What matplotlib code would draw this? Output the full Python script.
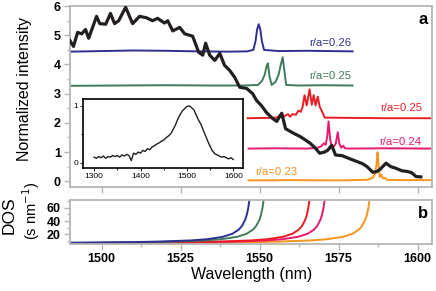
"""
Emission spectra of photonic crystal cavities (a) and density of states (b)
"""

import matplotlib
matplotlib.use('Agg')
import matplotlib.pyplot as plt
from matplotlib.ticker import MultipleLocator

plt.rcParams['font.family'] = ['Liberation Sans', 'DejaVu Sans']

# ---- broad emission (black, panel a) ----
wl_broad = [1489.9, 1491.1, 1492.4, 1493.7, 1494.9, 1495.9, 1498.4, 1499.4, 1501.3, 1502.8,
            1504.1, 1505.4, 1507.6, 1509.8, 1512.0, 1514.2, 1516.1, 1517.7, 1519.9, 1520.9,
            1522.5, 1524.7, 1526.3, 1528.8, 1530.7, 1532.0, 1532.9, 1534.2, 1535.8, 1537.4,
            1538.9, 1540.5, 1542.1, 1543.7, 1545.9, 1547.8, 1549.0, 1550.5, 1552.2, 1554.0,
            1555.4, 1557.0, 1558.2, 1559.5, 1560.8, 1562.5, 1564.0, 1566.0, 1567.5, 1569.0,
            1570.5, 1571.5, 1572.8, 1574.0, 1576.0, 1577.4, 1579.0, 1580.7, 1582.6, 1584.0,
            1585.8, 1587.0, 1588.0, 1590.0, 1591.5, 1593.0, 1595.0, 1596.5, 1598.0, 1599.5,
            1601.0]
int_broad = [4.83, 4.62, 5.10, 5.05, 5.20, 4.90, 5.65, 5.40, 5.38, 5.75,
             5.40, 5.50, 5.96, 5.40, 5.65, 5.60, 5.50, 5.58, 5.42, 5.50,
             5.15, 5.27, 5.05, 4.97, 4.42, 4.32, 4.73, 4.32, 4.14, 4.38,
             3.97, 3.80, 3.56, 3.22, 3.18, 3.00, 2.77, 2.60, 2.35, 2.16,
             2.05, 2.33, 1.80, 1.72, 1.64, 1.55, 1.45, 1.30, 1.15, 0.96,
             1.00, 1.06, 1.23, 0.90, 0.88, 0.82, 0.75, 0.68, 0.60, 0.50,
             0.31, 0.33, 0.40, 0.62, 0.50, 0.45, 0.36, 0.34, 0.30, 0.16,
             0.15]

# ---- cavity spectra (panel a) ----
wl_026 = [1490, 1500, 1510, 1520, 1530, 1540, 1546, 1548.0, 1548.7, 1549.2, 1549.7,
          1550.2, 1550.7, 1551.4, 1556, 1565, 1572, 1579.4]
int_026 = [4.44, 4.46, 4.48, 4.47, 4.45, 4.44, 4.45, 4.50, 4.80, 5.20, 5.38,
           5.20, 4.80, 4.50, 4.46, 4.47, 4.46, 4.45]

wl_025a = [1490, 1505, 1520, 1535, 1545, 1549.5, 1550.8, 1551.6, 1552.2, 1552.6, 1553.1,
           1553.8, 1555.0, 1556.0, 1556.7, 1557.3, 1557.8, 1558.4, 1562, 1570, 1579.4]
int_025a = [3.27, 3.28, 3.29, 3.28, 3.28, 3.30, 3.45, 3.65, 3.95, 4.04, 3.60,
            3.30, 3.40, 3.65, 4.00, 4.25, 3.80, 3.30, 3.28, 3.29, 3.28]

wl_025b = [1546.2, 1552, 1555.5, 1556.3, 1557.0, 1558.0, 1559.0, 1559.6, 1560.4, 1561.5,
           1562.3, 1563.0, 1563.6, 1564.2, 1564.9, 1565.8, 1566.5, 1567.1, 1567.7, 1568.4,
           1569.0, 1569.7, 1570.6, 1580, 1590, 1604.4]
int_025b = [2.16, 2.17, 2.18, 2.26, 2.19, 2.24, 2.30, 2.21, 2.30, 2.28,
            2.42, 2.38, 2.55, 2.95, 2.60, 3.15, 2.62, 2.95, 2.60, 2.90,
            2.55, 2.40, 2.18, 2.17, 2.16, 2.16]

wl_024 = [1546.5, 1555, 1565, 1568.5, 1569.5, 1570.3, 1570.9, 1571.4, 1571.8, 1572.3,
          1572.9, 1573.5, 1574.1, 1574.7, 1575.2, 1575.8, 1576.4, 1577.0, 1578, 1590, 1604.4]
int_024 = [1.12, 1.13, 1.12, 1.15, 1.20, 1.30, 1.25, 1.55, 2.05, 1.45,
           1.15, 1.20, 1.30, 1.68, 1.30, 1.15, 1.22, 1.13, 1.12, 1.13, 1.12]

wl_023 = [1546.5, 1560, 1575, 1584, 1585.8, 1586.5, 1587.0, 1587.3, 1587.6, 1588.0,
          1588.5, 1589.0, 1589.6, 1590.3, 1595, 1604.4]
int_023 = [0.03, 0.04, 0.03, 0.05, 0.12, 0.25, 0.60, 0.99, 0.60, 0.15,
           0.22, 0.10, 0.12, 0.05, 0.04, 0.04]

# ---- inset: wide emission spectrum ----
wl_inset = list(range(1300, 1601, 5))
int_inset = [0.10, 0.08, 0.11, 0.09, 0.12, 0.08, 0.11, 0.10, 0.13, 0.11,
             0.13, 0.10, 0.14, 0.12, 0.15, 0.13, 0.04, 0.17, 0.15, 0.19,
             0.17, 0.22, 0.20, 0.25, 0.23, 0.28, 0.30, 0.33, 0.35, 0.38,
             0.40, 0.44, 0.47, 0.51, 0.58, 0.66, 0.76, 0.84, 0.91, 0.95,
             0.99, 1.00, 0.97, 0.93, 0.84, 0.75, 0.68, 0.58, 0.48, 0.38,
             0.29, 0.21, 0.16, 0.14, 0.12, 0.10, 0.11, 0.09, 0.07, 0.09,
             0.06]

# ---- panel b: density of states near the band edge ----
dos_edge = [1586.4, 1572.2, 1567.4, 1552.9, 1548.4]   # orange, pink, red, green, blue
dos_offset = [120, 95, 75, 57, 40, 30, 20, 15, 10, 7, 5, 4, 3, 2.5, 2, 1.6, 1.4]
dos_value = [5.9, 6.2, 6.5, 6.9, 7.75, 8.7, 10.5, 12.3, 16, 20.7, 27, 32.5, 41.7, 49, 60, 73.8, 83.6]

labels = ['r/a=0.26', 'r/a=0.25', 'r/a=0.25', 'r/a=0.24', 'r/a=0.23']
colors = ['#2E3192', '#3F7D5A', '#ED1C24', '#E8196E', '#F7941D']
dos_colors = ['#F7941D', '#E8196E', '#ED1C24', '#3F7D5A', '#2E3192']

spine_gray = '#B5B5B5'


def style_axes(a):
    for s in a.spines.values():
        s.set_color(spine_gray)
        s.set_linewidth(1.3)
    a.tick_params(which='both', direction='out', color=spine_gray, width=1.0)
    a.tick_params(which='major', length=4.5, labelsize=9, pad=2)
    a.tick_params(which='minor', length=2.5)
    for t in a.get_xticklabels() + a.get_yticklabels():
        t.set_fontweight('bold')


fig = plt.figure(figsize=(4.36, 2.91), dpi=100)
ax = fig.add_axes([0.1606, 0.357, 0.830, 0.622])
axb = fig.add_axes([0.1606, 0.1615, 0.830, 0.151])

# ===== panel a =====
series = [(wl_026, int_026), (wl_025a, int_025a), (wl_025b, int_025b),
          (wl_024, int_024), (wl_023, int_023)]
for (w, v), c in zip(series, colors):
    ax.plot(w, v, color=c, lw=1.4, zorder=2)
ax.plot(wl_broad, int_broad, color='#231F20', lw=2.3, zorder=3)

ax.set_xlim(1490, 1604.5)
ax.set_ylim(-0.2, 6.0)
ax.xaxis.set_major_locator(MultipleLocator(25))
ax.yaxis.set_major_locator(MultipleLocator(1))
ax.yaxis.set_minor_locator(MultipleLocator(0.5))
ax.tick_params(axis='x', labelbottom=False)
style_axes(ax)

ax.text(1579.1, 4.73, labels[0], color=colors[0], fontsize=8.2, ha='right', va='center')
ax.text(1579.1, 3.60, labels[1], color=colors[1], fontsize=8.2, ha='right', va='center')
ax.text(1601.3, 2.50, labels[2], color=colors[2], fontsize=8.2, ha='right', va='center')
ax.text(1601.3, 1.34, labels[3], color=colors[3], fontsize=8.2, ha='right', va='center')
ax.text(1548.7, 0.31, labels[4], color=colors[4], fontsize=8.2, ha='left', va='center')

# inset
axin = fig.add_axes([0.1904, 0.4227, 0.367, 0.237])
axin.plot(wl_inset, int_inset, color='#231F20', lw=1.0)
axin.set_xlim(1276, 1621)
axin.set_ylim(-0.09, 1.12)
axin.set_xticks([1300, 1400, 1500, 1600])
axin.set_yticks([0, 1])
axin.xaxis.set_minor_locator(MultipleLocator(50))
axin.yaxis.set_minor_locator(MultipleLocator(0.5))
for s in axin.spines.values():
    s.set_linewidth(1.2)
axin.tick_params(which='both', direction='out', labelsize=6, pad=1, width=0.6)
axin.tick_params(which='major', length=2.5)
axin.tick_params(which='minor', length=1.5)

# ===== panel b =====
for edge, c in zip(dos_edge, dos_colors):
    axb.plot([edge - d for d in dos_offset], dos_value, color=c, lw=1.4)
axb.set_xlim(1490, 1604.5)
axb.set_ylim(5, 72)
axb.xaxis.set_major_locator(MultipleLocator(25))
axb.xaxis.set_minor_locator(MultipleLocator(12.5))
axb.set_yticks([20, 40, 60])
axb.set_yticks([10, 30, 50, 70], minor=True)
style_axes(axb)

# ===== labels =====
fig.text(0.057, 0.694, 'Normalized intensity', rotation=90, ha='center', va='center', fontsize=11.5)
fig.text(0.020, 0.262, 'DOS', rotation=90, ha='center', va='center', fontsize=12.5)
fig.text(0.071, 0.275, '(s nm$^{-1}$)', rotation=90, ha='center', va='center', fontsize=10.5)
fig.text(0.577, 0.055, 'Wavelength (nm)', ha='center', va='center', fontsize=11.5)
fig.text(423 / 436, 1 - 19 / 291, 'a', ha='center', va='center', fontsize=12, fontweight='bold')
fig.text(423 / 436, 1 - 214 / 291, 'b', ha='center', va='center', fontsize=12, fontweight='bold')

plt.savefig('out.png', dpi=100)
plt.close()
